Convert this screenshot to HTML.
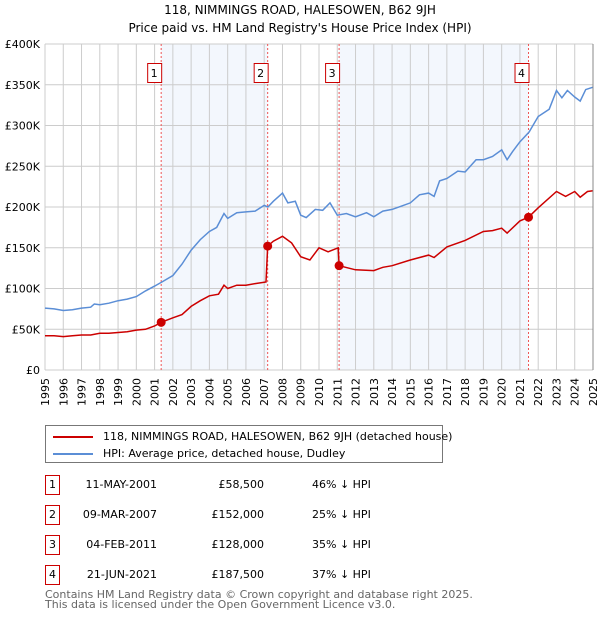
<!DOCTYPE html>
<html><head><meta charset="utf-8"><style>
body{margin:0;background:#fff;width:600px;height:620px;overflow:hidden;font-family:"DejaVu Sans","Liberation Sans",sans-serif;color:#000}
svg{position:absolute;left:0;top:0}
.r div{white-space:nowrap}
</style></head><body>
<svg id="c" width="600" height="620"></svg>
<script>
const years=[1995,1996,1997,1998,1999,2000,2001,2002,2003,2004,2005,2006,2007,2008,2009,2010,2011,2012,2013,2014,2015,2016,2017,2018,2019,2020,2021,2022,2023,2024,2025];
const yTicks=[0,50,100,150,200,250,300,350,400];
const yTickLabels=["£0","£50K","£100K","£150K","£200K","£250K","£300K","£350K","£400K"];
const hpiT=[1995,1995.5,1996,1996.5,1997,1997.5,1997.7,1998,1998.5,1999,1999.5,2000,2000.5,2001,2001.4,2002,2002.5,2003,2003.5,2004,2004.4,2004.8,2005,2005.5,2006,2006.5,2007,2007.2,2007.5,2008,2008.3,2008.7,2009,2009.3,2009.8,2010.2,2010.6,2011,2011.5,2012,2012.6,2013,2013.5,2014,2014.5,2015,2015.5,2016,2016.3,2016.6,2017,2017.6,2018,2018.6,2019,2019.5,2020,2020.3,2020.6,2021,2021.5,2022,2022.6,2023,2023.3,2023.6,2024,2024.3,2024.6,2025];
const hpiV=[76,75,73,74,76,77,81,80,82,85,87,90,97,103,108,116,130,147,160,170,175,192,186,193,194,195,202,200,207,217,205,207,190,187,197,196,205,190,192,188,193,188,195,197,201,205,215,217,213,232,235,244,243,258,258,262,270,258,268,280,292,311,320,343,334,343,335,330,344,347];
const ppT=[1995,1995.5,1996,1996.5,1997,1997.5,1998,1998.5,1999,1999.5,2000,2000.5,2001,2001.36,2002,2002.5,2003,2003.5,2004,2004.5,2004.8,2005,2005.5,2006,2006.5,2007.1,2007.19,2007.5,2008,2008.5,2009,2009.5,2010,2010.5,2011.05,2011.1,2012,2013,2013.5,2014,2015,2016,2016.3,2017,2018,2019,2019.5,2020,2020.3,2021,2021.47,2022,2023,2023.5,2024,2024.3,2024.7,2025];
const ppV=[42,42,41,42,43,43,45,45,46,47,49,50,54,58.5,64,68,78,85,91,93,104,100,104,104,106,108,152,158,164,156,139,135,150,145,150,128,123,122,126,128,135,141,138,151,159,170,171,174,168,183,187.5,199,219,213,219,212,219,220];
const saleT=[2001.36,2007.19,2011.1,2021.47];
const saleV=[58.5,152,128,187.5];
const saleLabels=["1","2","3","4"];
const X0=45,X1=593,Y0=370,Y1=44;
const xs=t=>X0+(t-1995)/30*(X1-X0);
const ys=v=>Y0-v/400*(Y0-Y1);
const svg=document.getElementById('c');const NS="http://www.w3.org/2000/svg";
function mk(tag,attrs,parent){const e=document.createElementNS(NS,tag);for(const k in attrs)e.setAttribute(k,attrs[k]);(parent||svg).appendChild(e);return e;}
for(let i=0;i<4;i+=2){const r=mk('rect',{x:xs(saleT[i]),y:Y1,width:xs(saleT[i+1])-xs(saleT[i]),height:Y0-Y1,fill:'#eef3fc',opacity:0.7});

}
years.forEach(y=>{const l=mk('line',{x1:xs(y),x2:xs(y),y1:Y1,y2:Y0,stroke:'#ccc','stroke-width':1});


const t=mk('text',{x:0,y:0,transform:`translate(${xs(y)+4},${Y0+36}) rotate(-90)`,'font-size':11});t.textContent=y;

});
yTicks.forEach((v,i)=>{const l=mk('line',{x1:X0,x2:X1,y1:ys(v),y2:ys(v),stroke:'#ccc','stroke-width':1});


const t=mk('text',{x:40,y:ys(v)+4,'text-anchor':'end','font-size':11});t.textContent=yTickLabels[i];

});
saleT.forEach((t,i)=>{const l=mk('line',{x1:xs(t),x2:xs(t),y1:Y1,y2:Y0,stroke:'#e55','stroke-width':1,'stroke-dasharray':'2,2'});


const b=mk('rect',{x:xs(t)-14+0.5,y:63.5,width:14,height:19,fill:'#fff',stroke:'#c00'});


const tx=mk('text',{x:xs(t)-7,y:77,'text-anchor':'middle','font-size':11});tx.textContent=saleLabels[i];

});
function path(T,V,color,name){const d=T.map((t,i)=>(i?'L':'M')+xs(t).toFixed(1)+','+ys(V[i]).toFixed(1)).join('');
const p=mk('path',{d:d,fill:'none',stroke:color,'stroke-width':1.5});

}
path(hpiT,hpiV,'#5b8ed6','hpi-line');
path(ppT,ppV,'#cc0000','price-paid-line');
saleT.forEach((t,i)=>{const c=mk('circle',{cx:xs(t),cy:ys(saleV[i]),r:4.5,fill:'#cc0000'});

});
const ax=mk('line',{x1:X1,x2:X1,y1:Y1,y2:Y0,stroke:'#888'});


</script>
<div style="position:absolute;left:0;width:600px;top:1px;text-align:center;font-size:12px;line-height:18px">118, NIMMINGS ROAD, HALESOWEN, B62 9JH<br>Price paid vs. HM Land Registry's House Price Index (HPI)</div>
<div style="position:absolute;left:45px;top:425px;width:396px;height:36px;border:1px solid #777;font-size:11px">
 <div style="position:absolute;left:7px;top:4px;white-space:nowrap"><span style="display:inline-block;width:40px;height:2px;background:#cc0000;vertical-align:middle;margin-right:10px"></span>118, NIMMINGS ROAD, HALESOWEN, B62 9JH (detached house)</div>
 <div style="position:absolute;left:7px;top:21px;white-space:nowrap"><span style="display:inline-block;width:40px;height:2px;background:#5b8ed6;vertical-align:middle;margin-right:10px"></span>HPI: Average price, detached house, Dudley</div>
</div>
<div class="r" style="position:absolute;left:0;top:0;font-size:11px">
 <div>
  <div style="position:absolute;left:45px;top:475px;width:13px;height:18px;border:1px solid #c00;text-align:center;line-height:18px">1</div>
  <div style="position:absolute;left:40px;width:117px;text-align:right;top:478px">11-MAY-2001</div>
  <div style="position:absolute;left:150px;width:114px;text-align:right;top:478px">£58,500</div>
  <div style="position:absolute;left:312px;top:478px">46% ↓ HPI</div>
 </div>
 <div>
  <div style="position:absolute;left:45px;top:505px;width:13px;height:18px;border:1px solid #c00;text-align:center;line-height:18px">2</div>
  <div style="position:absolute;left:40px;width:117px;text-align:right;top:508px">09-MAR-2007</div>
  <div style="position:absolute;left:150px;width:114px;text-align:right;top:508px">£152,000</div>
  <div style="position:absolute;left:312px;top:508px">25% ↓ HPI</div>
 </div>
 <div>
  <div style="position:absolute;left:45px;top:535px;width:13px;height:18px;border:1px solid #c00;text-align:center;line-height:18px">3</div>
  <div style="position:absolute;left:40px;width:117px;text-align:right;top:538px">04-FEB-2011</div>
  <div style="position:absolute;left:150px;width:114px;text-align:right;top:538px">£128,000</div>
  <div style="position:absolute;left:312px;top:538px">35% ↓ HPI</div>
 </div>
 <div>
  <div style="position:absolute;left:45px;top:565px;width:13px;height:18px;border:1px solid #c00;text-align:center;line-height:18px">4</div>
  <div style="position:absolute;left:40px;width:117px;text-align:right;top:568px">21-JUN-2021</div>
  <div style="position:absolute;left:150px;width:114px;text-align:right;top:568px">£187,500</div>
  <div style="position:absolute;left:312px;top:568px">37% ↓ HPI</div>
 </div>
</div>
<div style="position:absolute;left:45px;top:590px;font-size:11px;line-height:10px;color:#666;white-space:nowrap">Contains HM Land Registry data © Crown copyright and database right 2025.<br>This data is licensed under the Open Government Licence v3.0.</div>
</body></html>
